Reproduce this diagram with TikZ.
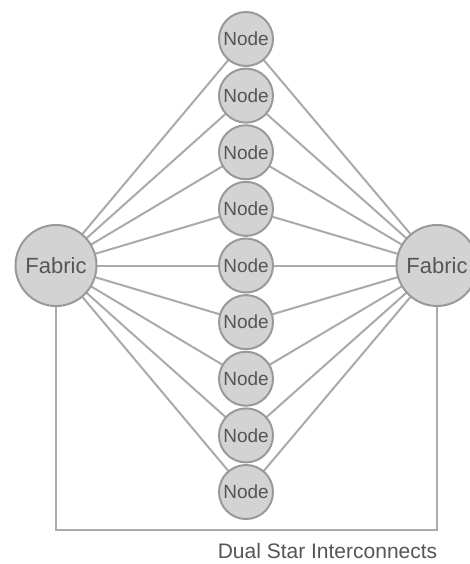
\documentclass[tikz,border=0pt]{standalone}
\usepackage{fontspec}
\setmainfont{Liberation Sans}
\usetikzlibrary{backgrounds}
\definecolor{fillg}{HTML}{D3D3D3}
\definecolor{strokeg}{HTML}{999999}
\definecolor{lineg}{HTML}{AAAAAA}
\definecolor{textg}{HTML}{555555}
\begin{document}
\begin{tikzpicture}[x=1pt,y=-1pt,
  nodecirc/.style={circle,draw=strokeg,fill=fillg,line width=2pt,minimum size=54pt,inner sep=0pt,text=textg,font=\fontsize{19}{19}\selectfont},
  fabcirc/.style={circle,draw=strokeg,fill=fillg,line width=2pt,minimum size=81pt,inner sep=0pt,text=textg,font=\fontsize{22}{22}\selectfont},
  link/.style={draw=lineg,line width=2pt}]
\useasboundingbox (0,0) rectangle (470,564);
\node[fabcirc] (fl) at (56,265.5) {Fabric};
\node[fabcirc] (fr) at (437,265.5) {Fabric};
\foreach \i in {0,...,8} {
  \node[nodecirc] (n\i) at (246,39+56.625*\i) {Node};
}
\coordinate (bl) at (56,530);
\coordinate (br) at (437,530);
\begin{scope}[on background layer]
\foreach \i in {0,...,8} {
  \draw[link] (fl.center) -- (n\i.center);
  \draw[link] (fr.center) -- (n\i.center);
}
\draw[link] (fl.south) -- (bl) -- (br) -- (fr.south);
\end{scope}
\node[text=textg,font=\fontsize{21}{21}\selectfont] (lbl) at (327.5,551) {Dual Star Interconnects};
\end{tikzpicture}
\end{document}
